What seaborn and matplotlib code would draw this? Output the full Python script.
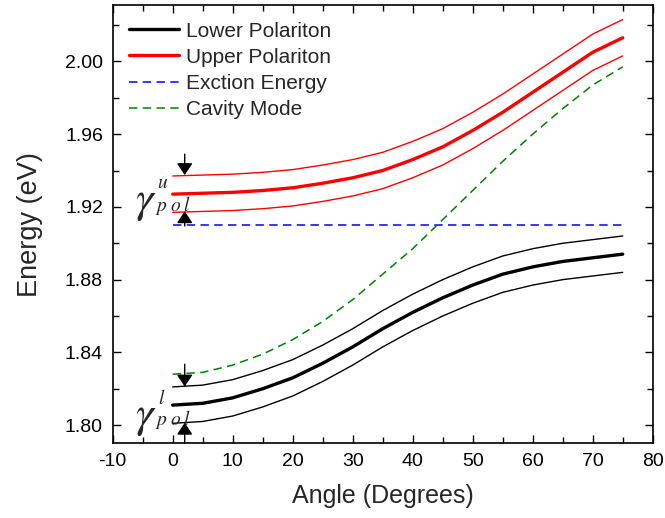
import numpy as np
import pandas as pd
import matplotlib
matplotlib.use("Agg")
import matplotlib.pyplot as plt
import seaborn as sns

# Emission angle (degrees) and energies (eV)
angle = [0, 5, 10, 15, 20, 25, 30, 35, 40, 45, 50, 55, 60, 65, 70, 75]
lower_polariton = [1.811, 1.812, 1.815, 1.820, 1.826, 1.834, 1.843, 1.853,
                   1.862, 1.870, 1.877, 1.883, 1.887, 1.890, 1.892, 1.894]
upper_polariton = [1.927, 1.9275, 1.928, 1.929, 1.9305, 1.933, 1.936, 1.940,
                   1.946, 1.953, 1.962, 1.972, 1.983, 1.994, 2.005, 2.013]
cavity_mode = [1.828, 1.829, 1.833, 1.839, 1.847, 1.857, 1.869, 1.883,
               1.897, 1.913, 1.929, 1.945, 1.960, 1.974, 1.987, 1.997]
exciton_energy = 1.910
# Polariton linewidths (half widths of the bands)
gamma_upper = 0.010
gamma_lower = 0.010

x_ticks = [-10, 0, 10, 20, 30, 40, 50, 60, 70, 80]
y_ticks = [1.80, 1.84, 1.88, 1.92, 1.96, 2.00]

sns.set_theme(style="ticks")
plt.rcParams["font.family"] = ["Liberation Sans", "DejaVu Sans"]
plt.rcParams["mathtext.fontset"] = "stix"

fig = plt.figure(figsize=(6.65, 5.18), dpi=100)
ax = fig.add_axes([0.1695, 0.1442, 0.812, 0.8461])

df = pd.DataFrame({
    "angle": angle,
    "lp": lower_polariton,
    "up": upper_polariton,
    "cav": cavity_mode,
})
df["lp_hi"] = df["lp"] + gamma_lower
df["lp_lo"] = df["lp"] - gamma_lower
df["up_hi"] = df["up"] + gamma_upper
df["up_lo"] = df["up"] - gamma_upper
df["exc"] = exciton_energy

sns.lineplot(data=df, x="angle", y="lp", color="black", lw=2.4,
             label="Lower Polariton", ax=ax)
sns.lineplot(data=df, x="angle", y="up", color="#ff0000", lw=2.4,
             label="Upper Polariton", ax=ax)
sns.lineplot(data=df, x="angle", y="exc", color="#0000ff", lw=1.1,
             linestyle=(0, (5.5, 3.5)), label="Exction Energy", ax=ax)
sns.lineplot(data=df, x="angle", y="cav", color="#008000", lw=1.1,
             linestyle=(0, (5.5, 3.5)), label="Cavity Mode", ax=ax)
for col, c in [("lp_hi", "black"), ("lp_lo", "black"),
               ("up_hi", "#ff0000"), ("up_lo", "#ff0000")]:
    sns.lineplot(data=df, x="angle", y=col, color=c, lw=1.0, ax=ax)

# Linewidth markers
arrow = dict(arrowstyle="-|>,head_length=0.6,head_width=0.4", color="black",
             lw=1.0, shrinkA=0, shrinkB=0)
ax.annotate("", xy=(2, 1.9375), xytext=(2, 1.9490), arrowprops=arrow)
ax.annotate("", xy=(2, 1.9176), xytext=(2, 1.9095), arrowprops=arrow)
ax.annotate("", xy=(2, 1.8212), xytext=(2, 1.8335), arrowprops=arrow)
ax.annotate("", xy=(2, 1.8013), xytext=(2, 1.7900), arrowprops=arrow)

ax.text(-4.5, 1.9170, r"$\gamma$", fontsize=32, ha="center", va="baseline")
ax.text(-1.7, 1.9305, r"$u$", fontsize=14, ha="center", va="baseline")
ax.text(0.1, 1.9180, r"$p\;o\;l$", fontsize=14, ha="center", va="baseline")
ax.text(-4.5, 1.7990, r"$\gamma$", fontsize=32, ha="center", va="baseline")
ax.text(-1.9, 1.8115, r"$l$", fontsize=14, ha="center", va="baseline")
ax.text(0.1, 1.8000, r"$p\;o\;l$", fontsize=14, ha="center", va="baseline")

ax.set_xlim(-10, 80)
ax.set_ylim(1.790, 2.031)
ax.set_xticks(x_ticks)
ax.set_yticks(y_ticks)
ax.set_xticklabels([str(v) for v in x_ticks])
ax.set_yticklabels([f"{v:.2f}" for v in y_ticks])
ax.xaxis.set_minor_locator(matplotlib.ticker.MultipleLocator(5))
ax.yaxis.set_minor_locator(matplotlib.ticker.MultipleLocator(0.02))
ax.tick_params(which="both", direction="in", top=True, right=True,
               color="black", width=1.0, labelsize=14, labelcolor="black")
ax.tick_params(which="major", length=6, pad=7)
ax.tick_params(which="minor", length=4)
for s in ax.spines.values():
    s.set_visible(True)
    s.set_color("black")
    s.set_linewidth(1.2)

ax.set_xlabel("Angle (Degrees)", fontsize=18, labelpad=10)
ax.set_ylabel("Energy (eV)", fontsize=19.5, labelpad=16)

leg = ax.legend(loc="upper left", frameon=False, fontsize=15,
                handlelength=2.4, handletextpad=0.3, labelspacing=0.34,
                borderaxespad=0.4, bbox_to_anchor=(0.0, 1.0))

fig.savefig("out.png", dpi=100)
